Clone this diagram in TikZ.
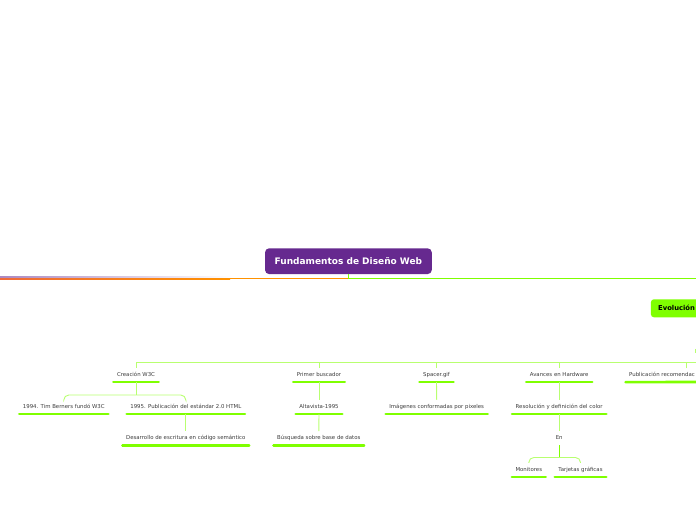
\documentclass[tikz,border=0pt]{standalone}
\usepackage{fontspec}
\setmainfont{DejaVu Sans}
\definecolor{mainpurple}{HTML}{66298F}
\definecolor{lime}{HTML}{7FFF00}
\definecolor{paleg}{HTML}{B8FF70}
\definecolor{txt}{HTML}{3C3C3C}
\definecolor{orng}{HTML}{FF9200}
\definecolor{redorng}{HTML}{F06A3A}
\begin{document}
\begin{tikzpicture}[x=1pt,y=-1pt,
  item/.style={font=\fontsize{5.4}{6}\selectfont, text=txt, inner xsep=3.5pt,
    inner ysep=4.1pt, text height=4.5pt, text depth=1.2pt},
  uline/.style={lime, line width=2.6pt, line cap=round},
  conn/.style={paleg, line width=0.9pt},
  mainline/.style={line width=1.3pt},
  rootbox/.style={fill=mainpurple, text=white, rounded corners=4pt,
    font=\bfseries\fontsize{9}{11}\selectfont, minimum width=166.7pt,
    minimum height=25.7pt, inner sep=0pt},
  evobox/.style={fill=lime, text=black, rounded corners=3pt,
    font=\bfseries\fontsize{6.8}{8}\selectfont, minimum height=18pt,
    inner xsep=7.3pt, inner ysep=0pt}
]
\useasboundingbox (0,0) rectangle (696,520);
\clip (0,0) rectangle (696,520);

% main topic and main line
\node[rootbox] (root) at (348.4,261.2) {Fundamentos de Diseño Web};
\coordinate (j) at (348.4,278.4);
\coordinate (lend) at (0,278.4);
\coordinate (rend) at (700,278.4);
\draw[mainline, orng] (j) -- (lend);
\shade[left color=redorng, right color=orng] (0,277.75) rectangle (230,279.05);
\shade[left color=mainpurple!55!white, right color=white] (0,276.6) rectangle (232,277.75);
\draw[mainline, lime] (root.south) -- (j) -- (rend);

% Evolucion
\node[evobox, anchor=west] (ev) at (650.7,308.3) {Evolución};
\coordinate (et1) at (695.5,348.5);
\coordinate (et2) at (695.5,353);
\draw[conn] (et1) -- (et2);

% level 1
\node[item] (c) at (136,375) {Creación W3C};
\node[item] (p) at (319,375) {Primer buscador};
\node[item] (s) at (436.5,375) {Spacer.gif};
\node[item] (a) at (559.2,375) {Avances en Hardware};
\node[item, anchor=west] (u) at (625.5,375) {Publicación recomendac};

% level 2
\node[item] (c94) at (63.8,407) {1994. Tim Berners fundó W3C};
\node[item] (c95) at (185.8,407) {1995. Publicación del estándar 2.0 HTML};
\node[item] (cd) at (185.8,438.3) {Desarrollo de escritura en código semántico};
\node[item] (pa) at (319,407) {Altavista-1995};
\node[item] (pb) at (318.8,438.3) {Búsqueda sobre base de datos};
\node[item] (si) at (436.7,407) {Imágenes conformadas por pixeles};
\node[item] (ar) at (559.2,407) {Resolución y definición del color};
\node[item] (en) at (559.2,438.3) {En};
\node[item] (am) at (528.8,470) {Monitores};
\node[item] (at) at (580.5,470) {Tarjetas gráficas};

% underlines
\foreach \n in {c,p,s,a,c94,c95,cd,pa,pb,si,ar,am,at}
  \draw[uline] (\n.south west) -- (\n.south east);
\coordinate (ue) at (700,381.95);
\draw[uline] (u.south west) -- (ue);

% level-1 bracket
\coordinate (hr) at (700,362.7);
\coordinate (ut) at (686,368.3);
\draw[conn] (c.north) |- (hr);
\draw[conn] (p.north) -- (p.north |- hr);
\draw[conn] (s.north) -- (s.north |- hr);
\draw[conn] (a.north) -- (a.north |- hr);
\draw[conn] (ut) -- (ut |- hr);

% Creacion children
\coordinate (cb) at (136,395);
\draw[conn] (c.south) -- (cb);
\draw[conn, rounded corners=5pt] (c94.north) |- (cb) -| (c95.north);
\draw[conn] (c95.south) -- (cd.north);

% Primer buscador children
\draw[conn] (p.south) -- (pa.north);
\draw[conn] (pa.south) -- (pb.north);

% Spacer
\draw[conn] (s.south) -- (si.north);

% Avances
\draw[conn] (a.south) -- (ar.north);
\draw[conn] (ar.south) -- (en.north);
\coordinate (eb) at (559.2,457.5);
\draw[lime, line width=0.9pt] (en.south) -- (eb);
\draw[conn, rounded corners=5pt] (am.north) |- (eb) -| (at.north);
\end{tikzpicture}
\end{document}
